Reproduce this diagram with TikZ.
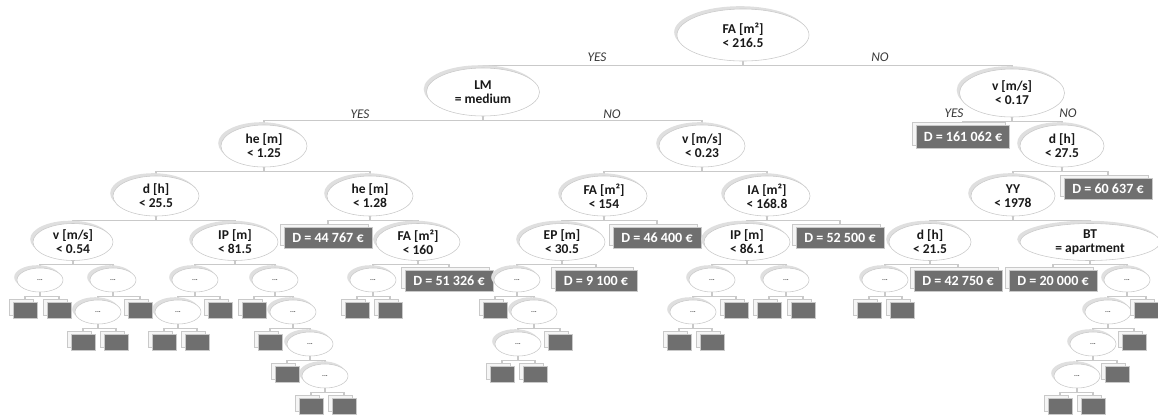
\documentclass[tikz,border=0pt]{standalone}
\usepackage{fontspec}
\setmainfont{Carlito}
\usepackage{tikz}
\usetikzlibrary{shapes.geometric,shadows,backgrounds}
\definecolor{leafgray}{HTML}{6F6F6F}
\definecolor{rimgray}{HTML}{C9C9C9}
\definecolor{labgray}{HTML}{3A3A3A}

\begin{document}
\begin{tikzpicture}[x=0.025cm, y=-0.025cm,
    cond/.style = {ellipse, draw=rimgray, fill=white, align=center, inner sep=0pt,
        font=\bfseries\fontsize{9.6}{9.8}\selectfont, text=black!90,
        general shadow={fill=gray!25, draw=none, shadow xshift=-0.07cm, shadow yshift=0.07cm},
        minimum width=2.15cm, minimum height=1.05cm},
    more/.style = {cond, minimum width=1.15cm, minimum height=0.6cm,
        font=\bfseries\fontsize{5}{5}\selectfont, text=gray!60!black},
    stub/.style = {rectangle, fill=leafgray, draw=rimgray, inner sep=0pt,
        general shadow={fill=gray!8, draw=rimgray, shadow xshift=-0.1cm, shadow yshift=0.08cm},
        minimum width=0.6cm, minimum height=0.4cm},
    value/.style = {stub, text=white, font=\bfseries\fontsize{10}{10}\selectfont,
        minimum width=2.2cm, minimum height=0.525cm},
    conn/.style = {draw=rimgray, line width=0.8pt},
    ans/.style = {font=\itshape\fontsize{9.5}{9.5}\selectfont, text=labgray}]
    \useasboundingbox (0,0) rectangle (1158,416);

    \node[cond, minimum width=3.3cm, minimum height=1.3cm] (fa) at (743,35) {FA [m²]\\< 216.5};
    \node[cond, minimum width=2.825cm, minimum height=1.2cm] (lm) at (483,92) {LM\\= medium};
    \node[cond, minimum width=2.625cm, minimum height=1.2cm] (va) at (1012,93) {v [m/s]\\< 0.17};

    \node[cond] (he1) at (264,146) {he [m]\\< 1.25};
    \node[cond] (vb) at (702,146) {v [m/s]\\< 0.23};
    \node[value, minimum width=2.325cm, minimum height=0.575cm] (d161) at (963,137) {D = 161 062 €};
    \node[cond, minimum width=2.1cm] (dc) at (1062,146) {d [h]\\< 27.5};

    \node[cond, minimum height=1cm] (d2) at (156,196) {d [h]\\< 25.5};
    \node[cond, minimum height=1cm] (he2) at (370,196) {he [m]\\< 1.28};
    \node[cond, minimum height=1cm] (fb) at (604,196) {FA [m²]\\< 154};
    \node[cond, minimum height=1cm] (ia) at (767,196) {IA [m²]\\< 168.8};
    \node[cond, minimum height=1cm, minimum width=2.1cm] (yy) at (1013,196) {YY\\< 1978};
    \node[value] (d60) at (1108,189) {D = 60 637 €};

    \node[cond, minimum height=0.925cm, minimum width=2cm] (vc) at (73,242) {v [m/s]\\< 0.54};
    \node[cond, minimum height=0.925cm] (ipa) at (235,242) {IP [m]\\< 81.5};
    \node[value] (d44) at (328,238) {D = 44 767 €};
    \node[cond, minimum height=0.925cm, minimum width=2.1cm] (fc) at (418,242) {FA [m²]\\< 160};
    \node[cond, minimum height=0.925cm] (ep) at (562,242) {EP [m]\\< 30.5};
    \node[value] (d46) at (657,238) {D = 46 400 €};
    \node[cond, minimum height=0.925cm] (ipb) at (747,242) {IP [m]\\< 86.1};
    \node[value] (d52) at (840,238) {D = 52 500 €};
    \node[cond, minimum height=0.925cm, minimum width=2.05cm] (dd) at (930,242) {d [h]\\< 21.5};
    \node[cond, minimum height=0.925cm, minimum width=3.5cm] (bt) at (1090,242) {BT\\= apartment};

    \node[value] (d51) at (449,281) {D = 51 326 €};
    \node[value, minimum width=2.05cm] (d9) at (596,281) {D = 9 100 €};
    \node[value] (d42) at (958,281) {D = 42 750 €};
    \node[value] (d20) at (1053,281) {D = 20 000 €};

    \foreach \n/\x/\y in {e1/40/280, e2/113/280, e3/195/280, e4/275/280, e5/373/280,
        e6/517/280, e7/712/280, e8/786/280, e9/885/280, e10/1127/280,
        e11/98/312, e12/178/312, e13/293/312, e14/534/312, e15/693/312, e16/1108/312,
        e17/310/344, e18/518/344, e19/1093/344, e20/325/376, e21/1077/376}
        \node[more] (\n) at (\x,\y) {...};

    \foreach \n/\x/\y in {s1/25/310, s2/59/310, s3/140/310, s4/220/310, s5/254/310,
        s6/357/310, s7/390/310, s8/495/310, s9/736/310, s10/769/310, s11/803/310,
        s12/869/310, s13/902/310, s14/1146/310,
        s15/83/342, s16/116/342, s17/164/342, s18/197/342, s19/270/342, s20/560/342,
        s21/679/342, s22/712/342, s23/1134/342,
        s24/287/374, s25/502/374, s26/535/374, s27/1117/374,
        s28/311/406, s29/344/406, s30/1060/406, s31/1093/406}
        \node[stub] (\n) at (\x,\y) {};

    \node[ans] (y1) at (597,57) {YES};
    \node[ans] (n1) at (880,57) {NO};
    \node[ans] (y2) at (360,114) {YES};
    \node[ans] (n2) at (612,114) {NO};
    \node[ans] (y3) at (954,113) {YES};
    \node[ans] (n3) at (1068,113) {NO};

    \begin{scope}[on background layer]
    \foreach \p/\c in {fa/lm, fa/va, lm/he1, lm/vb, va/d161, va/dc,
        he1/d2, he1/he2, vb/fb, vb/ia, dc/yy, dc/d60,
        d2/vc, d2/ipa, he2/d44, he2/fc, fb/ep, fb/d46, ia/ipb, ia/d52, yy/dd, yy/bt,
        vc/e1, vc/e2, ipa/e3, ipa/e4, fc/e5, fc/d51, ep/e6, ep/d9,
        ipb/e7, ipb/e8, dd/e9, dd/d42, bt/d20, bt/e10,
        e1/s1, e1/s2, e2/e11, e2/s3, e3/e12, e3/s4, e4/s5, e4/e13, e5/s6, e5/s7,
        e6/s8, e6/e14, e7/e15, e7/s9, e8/s10, e8/s11, e9/s12, e9/s13, e10/e16, e10/s14,
        e11/s15, e11/s16, e12/s17, e12/s18, e13/s19, e13/e17, e14/e18, e14/s20,
        e15/s21, e15/s22, e16/e19, e16/s23,
        e17/s24, e17/e20, e18/s25, e18/s26, e19/e21, e19/s27,
        e20/s28, e20/s29, e21/s30, e21/s31}
        \draw[conn] (\p.south) -- ++(0,4) -| (\c.north);
    \end{scope}
\end{tikzpicture}
\end{document}
